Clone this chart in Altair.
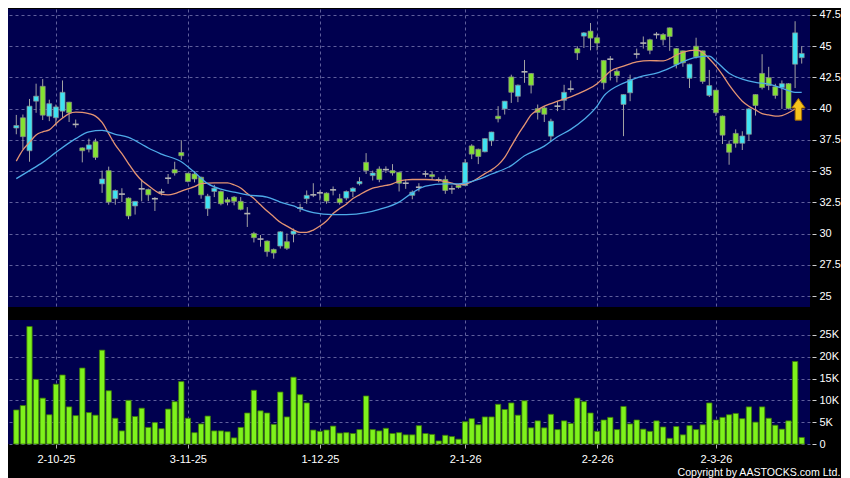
import altair as alt
import pandas as pd

# ---------------- data ----------------
opens = [
    38.45, 39.27, 36.63, 40.6, 41.79, 39.4, 39.27, 39.8, 40.52, 38.74,
    36.86, 36.75, 37.36, 33.98, 35.04, 32.79, 33.16, 32.84, 32.21, 33.58,
    33.53, 32.79, 33.32, 34.43, 35.12, 36.49, 34.83, 34.77, 34.51, 31.99,
    33.37, 33.37, 32.71, 32.92, 32.58, 31.6, 30.01, 29.56, 29.4, 28.73,
    29.0, 29.35, 29.96, 32.05, 32.79, 33.1, 33.26, 33.24, 33.5, 32.79,
    32.84, 33.37, 33.98, 35.7, 34.64, 35.17, 35.12, 35.04, 34.9, 34.03,
    33.06, 33.71, 34.77, 34.72, 34.3, 34.33, 33.58, 33.85, 33.85, 37.02,
    36.75, 36.55, 37.42, 39.4, 39.98, 42.54, 40.99, 42.95, 42.82, 40.0,
    40.06, 37.8, 40.2, 40.67, 41.57, 44.81, 45.81, 46.21, 45.68, 43.86,
    43.96, 43.0, 40.34, 41.27, 44.37, 45.25, 45.52, 45.94, 45.94, 46.47,
    44.81, 44.63, 42.43, 45.0, 44.63, 41.06, 41.48, 39.41, 37.17, 38.02,
    37.23, 37.95, 41.13, 42.82, 42.48, 41.75, 41.69, 42.0, 43.56, 44.08,
]
closes = [
    38.65, 37.76, 40.2, 41.0, 39.48, 40.4, 40.14, 41.31, 39.67, 38.74,
    36.63, 37.1, 36.1, 34.37, 32.52, 33.45, 33.16, 31.41, 32.58, 33.58,
    33.1, 32.79, 33.32, 34.43, 34.85, 36.23, 34.17, 34.37, 33.1, 33.0,
    33.63, 32.39, 32.52, 32.58, 31.94, 31.6, 29.67, 29.56, 28.55, 28.44,
    30.14, 28.82, 30.2, 32.05, 33.06, 33.1, 33.26, 32.6, 33.5, 32.47,
    33.37, 33.63, 34.17, 35.04, 34.85, 34.33, 35.12, 34.85, 34.03, 34.03,
    33.32, 33.71, 34.77, 34.56, 34.3, 33.45, 33.58, 33.69, 35.68, 36.36,
    36.17, 37.6, 38.13, 39.19, 40.6, 41.31, 41.88, 42.95, 41.88, 39.7,
    39.55, 39.0, 40.2, 41.31, 41.57, 44.46, 46.07, 45.65, 45.25, 42.07,
    43.96, 42.65, 41.13, 42.33, 44.37, 45.25, 44.67, 45.94, 45.52, 45.78,
    43.54, 43.67, 43.56, 44.15, 42.18, 41.85, 39.67, 37.88, 36.51, 37.23,
    37.81, 39.98, 40.25, 41.69, 41.85, 41.06, 42.0, 40.02, 46.07, 44.42,
]
highs = [
    39.5, 39.53, 40.78, 42.0, 42.37, 40.72, 40.33, 42.26, 40.55, 39.13,
    36.9, 37.6, 37.6, 35.04, 35.36, 33.53, 33.63, 32.9, 32.6, 34.33,
    33.6, 32.92, 33.58, 34.77, 35.75, 37.47, 34.85, 35.0, 34.55, 33.18,
    33.9, 33.45, 32.9, 33.0, 32.92, 32.12, 30.14, 29.88, 29.45, 28.8,
    30.2, 30.01, 30.4, 32.39, 33.45, 34.03, 33.45, 33.3, 33.77, 33.18,
    33.45, 33.71, 34.51, 36.44, 35.04, 35.38, 35.38, 35.56, 34.95, 34.33,
    33.45, 34.03, 35.04, 34.96, 34.5, 34.64, 33.85, 33.95, 35.96, 37.15,
    36.8, 37.65, 38.15, 40.2, 40.62, 42.72, 41.93, 43.9, 42.85, 40.33,
    40.2, 39.19, 40.6, 41.91, 42.26, 45.0, 46.13, 46.86, 45.86, 43.9,
    44.21, 43.17, 41.15, 42.72, 44.81, 45.78, 45.6, 46.13, 46.05, 46.5,
    44.85, 44.65, 43.6, 45.68, 44.65, 43.1, 41.5, 39.45, 37.44, 38.34,
    38.19, 40.06, 41.15, 44.36, 43.35, 41.99, 42.26, 42.05, 47.0, 45.0,
]
lows = [
    37.95, 36.75, 35.75, 39.67, 39.09, 39.0, 38.66, 39.27, 38.93, 38.48,
    35.7, 36.5, 35.9, 33.26, 32.31, 32.31, 32.52, 31.15, 31.52, 32.58,
    32.6, 31.81, 33.06, 33.98, 34.64, 35.91, 34.1, 34.1, 32.79, 31.41,
    32.92, 32.26, 32.26, 32.26, 31.86, 30.53, 29.29, 28.95, 28.15, 27.99,
    28.8, 28.69, 29.3, 31.73, 32.39, 32.92, 32.66, 32.39, 33.06, 32.31,
    32.66, 32.92, 33.85, 34.77, 34.25, 34.11, 34.85, 34.64, 33.37, 33.58,
    32.74, 33.37, 34.51, 34.33, 34.1, 33.18, 33.18, 33.6, 33.8, 35.96,
    35.56, 36.5, 37.02, 38.9, 39.53, 40.46, 40.52, 42.07, 41.22, 39.13,
    38.93, 37.4, 39.8, 39.88, 41.31, 43.9, 44.86, 44.67, 44.67, 41.54,
    42.26, 42.11, 37.8, 40.6, 44.02, 44.81, 44.36, 45.6, 45.07, 44.63,
    43.22, 43.35, 41.65, 44.02, 41.99, 40.93, 39.41, 37.17, 35.51, 36.88,
    36.69, 37.44, 39.45, 41.54, 41.48, 40.8, 39.98, 39.94, 41.65, 43.61,
]
volumes_k = [
    7.8, 8.8, 26.9, 14.8, 10.5, 6.7, 13.7, 15.8, 8.5, 6.5,
    17.4, 7.2, 6.6, 21.5, 12.2, 5.9, 3.0, 10.0, 6.3, 8.2,
    3.8, 4.9, 3.5, 8.0, 9.7, 14.3, 5.9, 2.6, 4.6, 6.4,
    3.0, 3.0, 2.8, 1.4, 3.8, 7.1, 12.3, 7.6, 7.1, 4.5,
    11.9, 6.2, 15.3, 11.3, 9.4, 3.2, 2.9, 3.2, 4.1, 2.5,
    2.6, 2.4, 3.3, 11.0, 3.3, 3.0, 3.6, 2.4, 2.6, 2.1,
    2.1, 4.2, 2.4, 2.2, 0.7, 2.0, 1.7, 1.1, 5.1, 5.8,
    4.4, 6.2, 6.2, 9.1, 7.9, 9.4, 6.6, 9.9, 3.7, 5.3,
    3.7, 6.8, 3.3, 5.3, 4.7, 10.5, 9.7, 7.1, 2.9, 5.5,
    6.1, 3.3, 8.6, 4.6, 5.5, 3.4, 2.9, 5.3, 3.9, 1.3,
    4.0, 2.1, 4.2, 3.3, 4.4, 9.4, 5.5, 6.1, 6.7, 7.0,
    5.8, 8.5, 5.0, 8.5, 5.9, 4.3, 3.4, 5.3, 18.9, 1.5,
]

# moving averages read at sampled candle positions
ma10_idx = [0, 1, 2, 3, 4, 5, 6, 7, 8, 9, 10, 11, 12, 13, 14, 15, 16, 17, 18, 19,
            20, 21, 22, 23, 24, 25, 26, 27, 28, 30, 32, 33, 34, 35, 36, 37, 38, 39,
            40, 41, 42, 43, 44, 45, 46, 47, 48, 49, 50, 51, 52, 53, 54, 55, 56, 57,
            58, 59, 60, 62, 64, 65, 66, 67, 68, 69, 70, 71, 72, 73, 74, 75, 76, 77,
            78, 79, 80, 81, 82, 84, 86, 88, 89, 90, 92, 94, 96, 98, 99, 100, 102,
            103, 104, 105, 106, 107, 108, 109, 110, 111, 112, 113, 114, 115, 116,
            117, 118]
ma10_val = [35.8, 36.7, 37.3, 37.9, 38.15, 38.3, 38.8, 39.25, 39.6, 39.72, 39.7,
            39.6, 39.4, 38.9, 38.0, 37.1, 36.4, 35.6, 34.85, 34.25,
            33.85, 33.45, 33.15, 33.1, 33.2, 33.4, 33.58, 33.75, 34.0, 34.06,
            34.06, 33.9, 33.65, 33.2, 32.8, 32.3, 31.8, 31.35,
            30.9, 30.6, 30.3, 30.1, 30.1, 30.28, 30.6, 31.0, 31.6, 32.0, 32.35,
            32.8, 33.1, 33.4, 33.63, 33.75, 33.85, 33.98,
            34.2, 34.3, 34.33, 34.33, 34.25, 34.15, 34.03, 33.9, 33.95, 34.15,
            34.45, 34.8, 35.1, 35.5, 36.1, 37.0, 37.9, 38.7,
            39.5, 39.9, 40.2, 40.4, 40.6, 40.95, 41.4, 42.0, 42.5, 43.0, 43.4,
            43.75, 43.85, 43.82, 44.0, 44.3, 44.65,
            44.69, 44.5, 44.0, 43.4, 42.7, 41.9, 41.2, 40.6, 40.2, 39.9, 39.6,
            39.5, 39.4, 39.45, 39.67, 39.98]
ma20_idx = [0, 2, 4, 6, 9, 11, 13, 15, 17, 19, 20, 22, 25, 27, 29, 31, 33, 35,
            38, 40, 42, 43, 45, 48, 50, 53, 55, 58, 60, 62, 65, 67, 70, 72, 75,
            77, 80, 82, 84, 86, 88, 89, 91, 93, 95, 97, 99, 101, 103, 105, 106,
            108, 110, 112, 114, 116, 118, 119]
ma20_val = [34.4, 35.04, 35.7, 36.5, 37.6, 38.15, 38.26, 37.94, 37.7, 37.15,
            36.85, 36.36, 35.75, 34.9, 34.0, 33.55, 33.32, 33.1, 32.92, 32.52,
            32.21, 31.99, 31.67, 31.52, 31.52, 31.67, 31.94, 32.52, 33.26,
            33.79, 33.98, 33.98, 34.33, 34.77, 35.44, 36.23, 37.0, 37.75,
            38.34, 39.13, 40.2, 41.0, 41.8, 42.26, 42.63, 42.84, 43.24, 43.75,
            44.1, 44.2, 43.8, 42.84, 42.37, 42.1, 41.97, 41.65, 41.31, 41.3]

tick_idx = [6, 26, 46, 68, 88, 106]
tick_labels = ["2-10-25", "3-11-25", "1-12-25", "2-1-26", "2-2-26", "2-3-26"]
price_ticks = [25, 27.5, 30, 32.5, 35, 37.5, 40, 42.5, 45, 47.5]
volume_ticks = [0, 5, 10, 15, 20, 25]
signal_idx = [118.5]
signal_price = [39.95]

# ---------------- tables ----------------
n = len(opens)
candles = pd.DataFrame({
    "i": list(range(n)), "open": opens, "high": highs,
    "low": lows, "close": closes, "vol": volumes_k,
})
ma10 = pd.DataFrame({"i": ma10_idx, "ma": ma10_val})
ma20 = pd.DataFrame({"i": ma20_idx, "ma": ma20_val})
signal = pd.DataFrame({"i": signal_idx, "p": signal_price})

# ---------------- styling ----------------
BG = "black"
PANEL = "#00004f"
GRID = "#5f5f9c"
FONT = "Liberation Sans"
W = 802

xscale = alt.Scale(domain=[-0.5, n - 0.5], nice=False, zero=False)
pscale = alt.Scale(domain=[24.12, 47.98], nice=False, zero=False)
vscale = alt.Scale(domain=[0, 28.4], nice=False)

label_expr = " : ".join(
    f"datum.value == {v} ? '{t}'" for v, t in zip(tick_idx, tick_labels)
) + " : ''"

x_price_axis = alt.Axis(
    values=tick_idx, labels=False, ticks=False, domain=False, grid=True,
    gridColor=GRID, gridDash=[3, 3], gridWidth=1, title=None)
y_price_axis = alt.Axis(
    orient="right", values=price_ticks, format=".1~f", grid=True,
    gridColor=GRID, gridDash=[3, 3], gridWidth=1, domain=False,
    tickColor="#d0d0d0", tickSize=4, offset=2, labelPadding=3,
    labelColor="white", labelFont=FONT, labelFontSize=11, title=None)


def px():
    return alt.X("i:Q", scale=xscale, axis=x_price_axis)


def py(field):
    return alt.Y(field, scale=pscale, axis=y_price_axis)


base = alt.Chart(candles).transform_calculate(
    dir="datum.close > datum.open ? 'up' : (datum.close < datum.open ? 'down' : 'flat')"
)

wicks = base.mark_rule(color="#a2a2a2", strokeWidth=1).encode(
    x=px(), y=py("low:Q"), y2="high:Q",
)
bodies = base.transform_filter("datum.dir != 'flat'").mark_bar(
    width=5, stroke="#8c8c8c", strokeWidth=0.7, opacity=1
).encode(
    x=px(), y=py("open:Q"), y2="close:Q",
    fill=alt.Fill("dir:N", scale=alt.Scale(domain=["up", "down"],
                                           range=["#3fe2f2", "#84e232"]),
                  legend=None),
)
flats = base.transform_filter("datum.dir == 'flat'").mark_tick(
    orient="horizontal", size=6, thickness=1.6, color="#b4b4b4", opacity=1
).encode(x=px(), y=py("open:Q"))

line10 = alt.Chart(ma10).mark_line(
    color="#e49473", strokeWidth=1.3, interpolate="monotone"
).encode(x=px(), y=py("ma:Q"))
line20 = alt.Chart(ma20).mark_line(
    color="#4eaae8", strokeWidth=1.3, interpolate="monotone"
).encode(x=px(), y=py("ma:Q"))

arrow_path = "M0,-1L0.62,-0.12L0.3,-0.12L0.3,1L-0.3,1L-0.3,-0.12L-0.62,-0.12Z"
arrow = alt.Chart(signal).mark_point(
    shape=arrow_path, filled=True, size=470, fill="#f6c31c",
    stroke="#a66c00", strokeWidth=1, opacity=1
).encode(x=px(), y=py("p:Q"))

price = alt.layer(wicks, bodies, flats, line10, line20, arrow).properties(
    width=W, height=298
)

volume = alt.Chart(candles).mark_bar(
    width=5.3, fill="#7ef21c", stroke="#3c7a06", strokeWidth=0.8, opacity=1
).encode(
    x=alt.X("i:Q", scale=xscale, axis=alt.Axis(
        values=tick_idx, labelExpr=label_expr, grid=True, gridColor=GRID,
        gridDash=[3, 3], gridWidth=1, domain=False, ticks=True,
        tickColor="#b0b0b0", tickSize=4, labelPadding=5, labelColor="white",
        labelFont=FONT, labelFontSize=11, title=None, labelFlush=False)),
    y=alt.Y("vol:Q", scale=vscale, axis=alt.Axis(
        orient="right", values=volume_ticks,
        labelExpr="datum.value == 0 ? '0' : datum.value + 'K'", grid=True,
        gridColor=GRID, gridDash=[3, 3], gridWidth=1, domain=False,
        tickColor="#d0d0d0", tickSize=4, offset=2, labelPadding=3,
        labelColor="white", labelFont=FONT, labelFontSize=11, title=None)),
).properties(width=W, height=124)

chart = alt.vconcat(
    price, volume, spacing=13,
    title=alt.TitleParams(
        "Copyright by AASTOCKS.com Ltd.", orient="bottom", anchor="end",
        frame="bounds", color="white", fontSize=10.6, fontWeight="normal",
        font=FONT, offset=4),
).properties(
    background=BG,
    padding={"left": 0, "top": 0, "right": 0, "bottom": 0},
).configure_view(fill=PANEL, stroke=None)

chart.save("out.html", embed_options={"renderer": "svg", "actions": False})
